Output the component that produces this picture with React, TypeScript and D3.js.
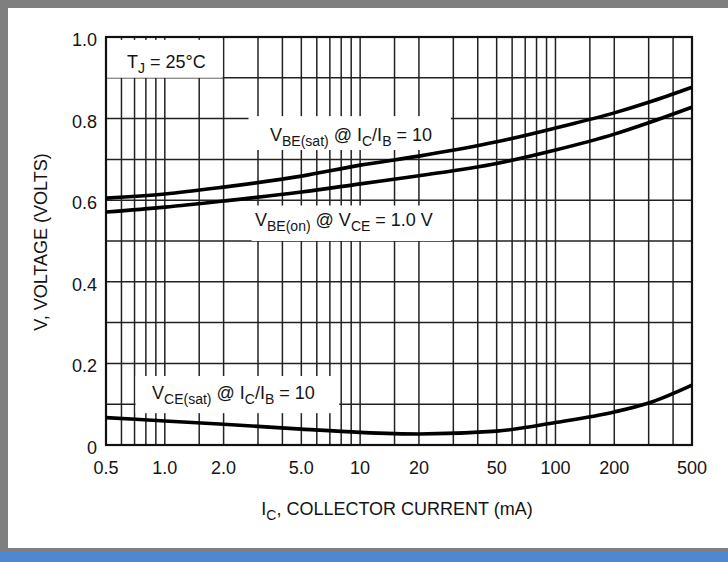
import * as d3 from "d3";
import React from "react";

// collector current (mA) sample points and the three curves (volts)
const currents = [0.5, 1, 2, 5, 10, 20, 50, 100, 200, 300, 500];
const vbeSat = [0.605, 0.615, 0.632, 0.659, 0.686, 0.708, 0.743, 0.777, 0.814, 0.84, 0.877];
const vbeOn = [0.571, 0.583, 0.598, 0.62, 0.64, 0.66, 0.69, 0.723, 0.762, 0.79, 0.828];
const vceSat = [0.067, 0.059, 0.051, 0.039, 0.031, 0.027, 0.034, 0.055, 0.081, 0.103, 0.147];

const xGrid = [0.5, 0.6, 0.7, 0.8, 0.9, 1, 1.5, 2, 3, 4, 5, 6, 7, 8, 9, 10, 15, 20, 30, 40, 50, 60, 70, 80, 90, 100, 150, 200, 300, 400, 500];
const xTicks = [0.5, 1, 2, 5, 10, 20, 50, 100, 200, 500];
const xTickLabels = ["0.5", "1.0", "2.0", "5.0", "10", "20", "50", "100", "200", "500"];
const yGrid = [0, 0.1, 0.2, 0.3, 0.4, 0.5, 0.6, 0.7, 0.8, 0.9, 1.0];
const yTicks = [0, 0.2, 0.4, 0.6, 0.8, 1.0];
const yTickLabels = ["0", "0.2", "0.4", "0.6", "0.8", "1.0"];

// label boxes in data coords: [i0, i1, v0, v1]
const boxes: [number, number, number, number][] = [
  [0.5, 2, 0.9, 0.993],
  [2.65, 29.5, 0.723, 0.806],
  [2.75, 29.5, 0.5, 0.587],
  [0.7, 7.9, 0.078, 0.169],
];

// label text as [text, subscript?] pieces
type Seg = [string, boolean];
const tjLabel: Seg[] = [["T", false], ["J", true], [" = 25°C", false]];
const vbeSatLabel: Seg[] = [["V", false], ["BE(sat)", true], [" @ I", false], ["C", true], ["/I", false], ["B", true], [" = 10", false]];
const vbeOnLabel: Seg[] = [["V", false], ["BE(on)", true], [" @ V", false], ["CE", true], [" = 1.0 V", false]];
const vceSatLabel: Seg[] = [["V", false], ["CE(sat)", true], [" @ I", false], ["C", true], ["/I", false], ["B", true], [" = 10", false]];
const xTitle: Seg[] = [["I", false], ["C", true], [", COLLECTOR CURRENT (mA)", false]];

const W = 728;
const H = 562;
const FONT = "'Liberation Sans Narrow', 'Arial Narrow', 'Liberation Sans', Arial, sans-serif";
const INK = "#141414";

function segs(parts: Seg[]) {
  let shifted = false;
  return parts.map(([t, sub], i) => {
    const dy = sub && !shifted ? 5 : !sub && shifted ? -5 : 0;
    shifted = sub;
    return (
      <tspan key={i} dy={dy} fontSize={sub ? 14 : 18}>
        {t}
      </tspan>
    );
  });
}

export default function App() {
  const x = d3.scaleLog().domain([0.5, 500]).range([106, 692]);
  const y = d3.scaleLinear().domain([0, 1]).range([445, 37]);

  const line = d3
    .line<number>()
    .x((_, i) => x(currents[i]))
    .y((d) => y(d))
    .curve(d3.curveMonotoneX);

  return (
    <div style={{ position: "fixed", left: 0, top: 0 }}>
      <svg width={W} height={H} fontFamily={FONT}>
        <rect x={0} y={0} width={W} height={H} fill="#fff" />
        {/* page frame */}
        <rect x={0} y={0} width={8} height={551} fill="#7f7f7f" />
        <rect x={0} y={0} width={W} height={8} fill="#7f7f7f" />
        <rect x={0} y={548} width={W} height={4} fill="#7f7f7f" />
        <rect x={0} y={552} width={W} height={10} fill="#4f88cf" />

        {/* grid */}
        {xGrid.map((v) => (
          <line key={"gx" + v} x1={x(v)} x2={x(v)} y1={y(0)} y2={y(1)} stroke="#222" strokeWidth={1.5} />
        ))}
        {yGrid.map((v) => (
          <line key={"gy" + v} x1={x(0.5)} x2={x(500)} y1={y(v)} y2={y(v)} stroke="#222" strokeWidth={1.5} />
        ))}

        {/* white label boxes */}
        {boxes.map(([i0, i1, v0, v1], k) => (
          <rect key={"b" + k} x={x(i0) + 1} y={y(v1)} width={x(i1) - x(i0) - 2} height={y(v0) - y(v1)} fill="#fff" />
        ))}

        <rect x={x(0.5)} y={y(1)} width={x(500) - x(0.5)} height={y(0) - y(1)} fill="none" stroke="#111" strokeWidth={2.2} />

        {/* curves */}
        {[vbeSat, vbeOn, vceSat].map((s, k) => (
          <path key={"c" + k} d={line(s) ?? ""} fill="none" stroke="#000" strokeWidth={3.6} />
        ))}

        {/* tick labels */}
        {xTicks.map((v, i) => (
          <text key={"tx" + v} x={x(v)} y={474} textAnchor="middle" fontSize={18} fill={INK}>
            {xTickLabels[i]}
          </text>
        ))}
        {yTicks.map((v, i) => (
          <text key={"ty" + v} x={97} y={y(v) + 9} textAnchor="end" fontSize={18} fill={INK}>
            {yTickLabels[i]}
          </text>
        ))}

        {/* annotations */}
        <g fontSize={18} fill={INK}>
          <text x={127} y={68}>{segs(tjLabel)}</text>
          <text x={270} y={141}>{segs(vbeSatLabel)}</text>
          <text x={255} y={226}>{segs(vbeOnLabel)}</text>
          <text x={152} y={399}>{segs(vceSatLabel)}</text>
        </g>

        {/* axis titles */}
        <text x={397} y={515} textAnchor="middle" fontSize={18} fill={INK}>
          {segs(xTitle)}
        </text>
        <text transform="translate(47,242) rotate(-90)" textAnchor="middle" fontSize={18} fill={INK}>
          V, VOLTAGE (VOLTS)
        </text>
      </svg>
    </div>
  );
}
